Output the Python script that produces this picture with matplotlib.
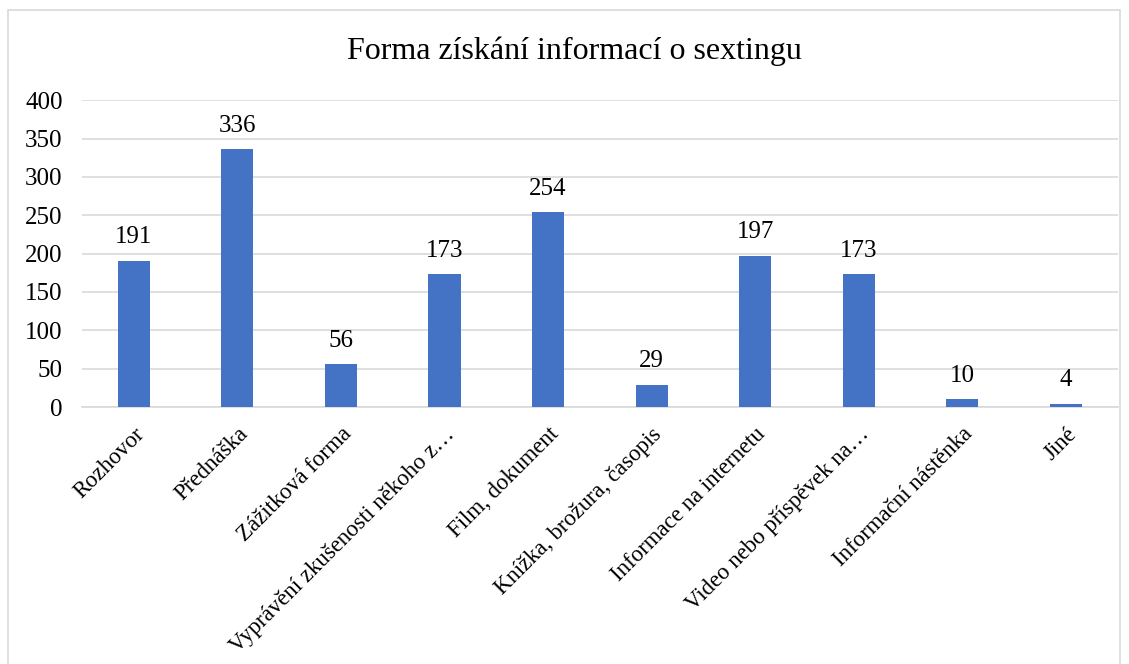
import matplotlib.pyplot as plt
from matplotlib.patches import Rectangle

plt.rcParams['font.family'] = ['Liberation Serif', 'DejaVu Serif']

# data
categories = ['Rozhovor', 'Přednáška', 'Zážitková forma', 'Vyprávění zkušenosti někoho z…',
              'Film, dokument', 'Knížka, brožura, časopis', 'Informace na internetu',
              'Video nebo příspěvek na…', 'Informační nástěnka', 'Jiné']
values = [191, 336, 56, 173, 254, 29, 197, 173, 10, 4]
yticks = [0, 50, 100, 150, 200, 250, 300, 350, 400]

fig = plt.figure(figsize=(11.29, 6.64), dpi=100)
ax = fig.add_axes([0.0726, 0.387, 0.9174, 0.462])

x = range(len(categories))
bars = ax.bar(x, values, width=0.31, color='#4472C4', zorder=3)
for b, v in zip(bars, values):
    ax.annotate(str(v), (b.get_x() + b.get_width() / 2, v), xytext=(0, 9),
                textcoords='offset points', ha='center', va='bottom', fontsize=18)

ax.set_xlim(-0.5, len(categories) - 0.5)
ax.set_ylim(0, 400)
ax.set_yticks(yticks)
ax.set_yticklabels([str(t) for t in yticks], fontsize=18)
ax.set_xticks(list(x))
ax.set_xticklabels(categories, rotation=45, ha='right', rotation_mode='anchor', fontsize=16.5)
ax.tick_params(length=0)
ax.tick_params(axis='y', pad=14)
ax.tick_params(axis='x', pad=12)
ax.grid(axis='y', color='#D9D9D9', linewidth=1.2, zorder=0)
for s in ['top', 'right', 'left']:
    ax.spines[s].set_visible(False)
ax.spines['bottom'].set_color('#D9D9D9')
ax.spines['bottom'].set_linewidth(1.2)

fig.suptitle('Forma získání informací o sextingu', x=0.509, y=0.945, fontsize=23)

# chart border
fig.patches.append(Rectangle((8 / 1129, -0.05), 1112 / 1129, 1.05 - 10 / 664,
                             transform=fig.transFigure, fill=False,
                             edgecolor='#D9D9D9', linewidth=1.2))

fig.savefig('out.png', dpi=100)
